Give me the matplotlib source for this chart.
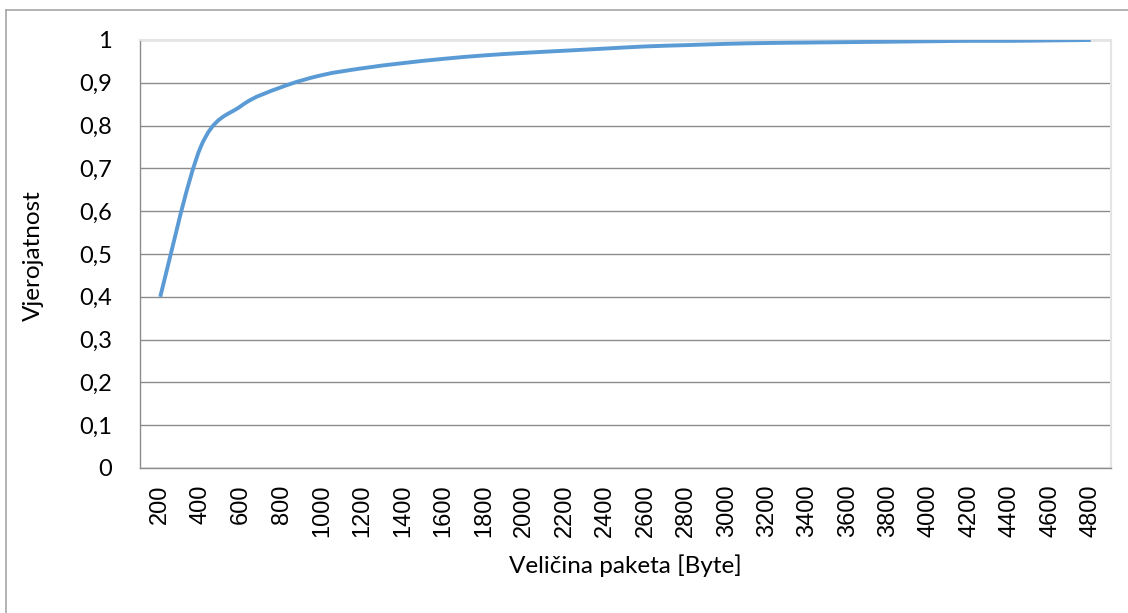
import matplotlib
matplotlib.use('Agg')
import matplotlib.pyplot as plt
from matplotlib.lines import Line2D
from matplotlib.path import Path
from matplotlib.patches import PathPatch

# packet size categories and cumulative probability
sizes = [200, 400, 600, 800, 1000, 1200, 1400, 1600, 1800, 2000, 2200, 2400,
         2600, 2800, 3000, 3200, 3400, 3600, 3800, 4000, 4200, 4400, 4600, 4800]
prob = [0.40, 0.75, 0.846, 0.89, 0.918, 0.934, 0.946, 0.956, 0.964, 0.970,
        0.975, 0.980, 0.985, 0.988, 0.991, 0.993, 0.994, 0.995, 0.996, 0.997,
        0.998, 0.998, 0.999, 1.0]
y_ticks = [0, 0.1, 0.2, 0.3, 0.4, 0.5, 0.6, 0.7, 0.8, 0.9, 1.0]


def smooth_path(xs, ys):
    # Excel-like smoothed line: cubic bezier through every point
    n = len(xs)
    verts = [(xs[0], ys[0])]
    codes = [Path.MOVETO]
    for i in range(n - 1):
        x0, y0 = xs[max(i - 1, 0)], ys[max(i - 1, 0)]
        x1, y1 = xs[i], ys[i]
        x2, y2 = xs[i + 1], ys[i + 1]
        x3, y3 = xs[min(i + 2, n - 1)], ys[min(i + 2, n - 1)]
        c1 = (x1 + (x2 - x0) / 6.0, y1 + (y2 - y0) / 6.0)
        c2 = (x2 - (x3 - x1) / 6.0, y2 - (y3 - y1) / 6.0)
        verts += [c1, c2, (x2, y2)]
        codes += [Path.CURVE4] * 3
    return Path(verts, codes)


W, H = 1128, 613
fig = plt.figure(figsize=(W / 100, H / 100), dpi=100)
ax = fig.add_axes([140 / W, 1 - 468 / H, (1111 - 140) / W, (468 - 40) / H])

pos = list(range(len(sizes)))
ax.add_patch(PathPatch(smooth_path(pos, prob), fill=False, edgecolor='#5B9BD5',
                       lw=2.8, capstyle='butt', zorder=3))

ax.set_xlim(-0.5, len(sizes) - 0.5)
ax.set_ylim(0, 1)
ax.set_yticks(y_ticks)
ax.set_yticklabels([('%g' % v).replace('.', ',') for v in y_ticks],
                   fontfamily='Lato', fontsize=17)
ax.set_xticks(pos)
ax.set_xticklabels([str(s) for s in sizes], rotation=90, va='top', ha='center',
                   fontfamily='Liberation Sans', fontsize=17)
ax.tick_params(axis='both', length=0)
ax.tick_params(axis='y', pad=20)
ax.tick_params(axis='x', pad=12)

ax.grid(axis='y', color='#8c8c8c', lw=1)
ax.set_axisbelow(True)
for side in ['top', 'right']:
    ax.spines[side].set_color('#e4e4e4')
    ax.spines[side].set_linewidth(1.5)
for side in ['left', 'bottom']:
    ax.spines[side].set_color('#8c8c8c')
    ax.spines[side].set_linewidth(1)

fig.text(625 / W, 1 - 566 / H, 'Veličina paketa [Byte]', ha='center', va='center',
         fontfamily='Lato', fontsize=17.5)
fig.text(33 / W, 1 - 256 / H, 'Vjerojatnost', ha='center', va='center',
         rotation=90, fontfamily='Lato', fontsize=17.5)

# outer chart border (only top and left visible in the crop)
fig.add_artist(Line2D([6 / W, 1], [1 - 9.5 / H, 1 - 9.5 / H], color='#a6a6a6', lw=1.2))
fig.add_artist(Line2D([6 / W, 6 / W], [0, 1 - 9.5 / H], color='#a6a6a6', lw=1.2))

fig.savefig('out.png', dpi=100, facecolor='white')
